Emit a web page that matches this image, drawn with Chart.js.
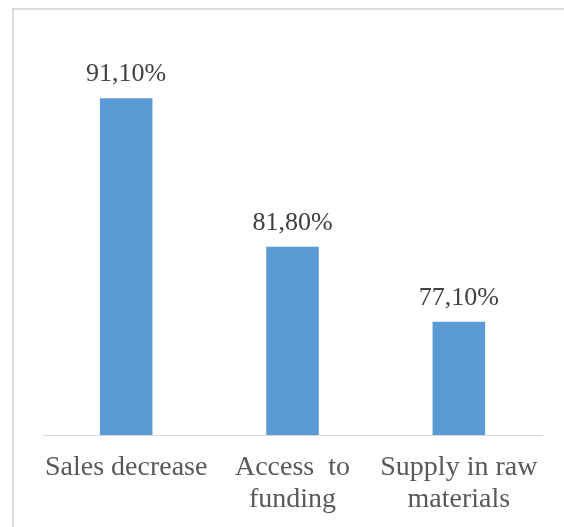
<!DOCTYPE html>
<html>
<head>
<meta charset="utf-8">
<script src="https://cdn.jsdelivr.net/npm/chart.js@4.4.1/dist/chart.umd.min.js"></script>
<style>
  html, body { margin: 0; padding: 0; background: #fff; overflow: hidden; }
  .chart-box { position: relative; width: 564px; height: 527px; }
  .chart-frame {
    position: absolute; left: 12px; top: 8px; width: 600px; height: 600px;
    border: 2px solid #dadada; box-sizing: border-box;
  }
  #barChart { position: absolute; left: 0; top: 0; }
</style>
</head>
<body>
<div class="chart-box">
  <div class="chart-frame"></div>
  <canvas id="barChart" width="564" height="527"></canvas>
</div>
<script>
// Các nhóm khó khăn và tỉ lệ (%)
const categories = [
  ['Sales decrease'],
  ['Access  to', 'funding'],
  ['Supply in raw', 'materials']
];
const values = [91.1, 81.8, 77.1];

// trục y ẩn, chỉ dùng để co giãn chiều cao cột
const yMin = 70;
const yMax = 95;

const fontFamily = '"Liberation Serif", "Times New Roman", serif';

// định dạng số kiểu 91,10%
var formatPercent = (v) => v.toFixed(2).replace('.', ',') + '%';

// plugin vẽ nhãn giá trị phía trên mỗi cột
const valueLabelPlugin = {
  id: 'valueLabels',
  afterDatasetsDraw(chart) {
    let ctx = chart.ctx;
    let meta = chart.getDatasetMeta(0);
    ctx.save();
    ctx.font = '26px ' + fontFamily;
    ctx.fillStyle = '#404040';
    ctx.textAlign = 'center';
    ctx.textBaseline = 'alphabetic';
    meta.data.forEach((bar, i) => {
      ctx.fillText(formatPercent(values[i]), bar.x, bar.y - 17);
    });
    ctx.restore();
  }
};

new Chart(document.getElementById('barChart'), {
  type: 'bar',
  data: {
    labels: categories,
    datasets: [{
      data: values,
      backgroundColor: '#5B9BD5',
      borderWidth: 0,
      barPercentage: 0.316,
      categoryPercentage: 1
    }]
  },
  options: {
    responsive: false,
    animation: false,
    layout: { padding: { left: 43, right: 22, top: 36, bottom: 0 } },
    plugins: {
      legend: { display: false },
      tooltip: { enabled: false }
    },
    scales: {
      y: { display: false, min: yMin, max: yMax },
      x: {
        grid: { display: false, drawTicks: false },
        border: { display: true, color: '#d9d9d9', width: 1 },
        ticks: {
          color: '#595959',
          padding: 17,
          maxRotation: 0,
          autoSkip: false,
          font: { family: fontFamily, size: 28, lineHeight: 1.143 }
        },
        afterFit: (scale) => { scale.height = 92; }
      }
    }
  },
  plugins: [valueLabelPlugin]
});
</script>
</body>
</html>
